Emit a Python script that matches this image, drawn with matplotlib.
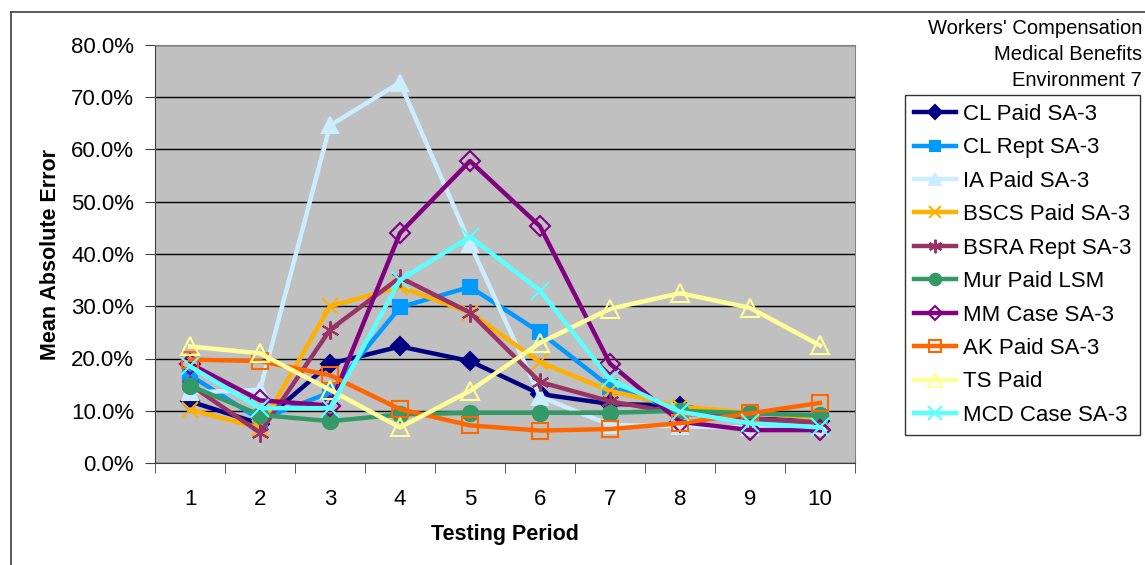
import numpy as np
import matplotlib.pyplot as plt
from matplotlib.lines import Line2D
from matplotlib.ticker import FuncFormatter

plt.rcParams['font.family'] = ['Liberation Sans', 'DejaVu Sans']

periods = np.arange(1, 11)

cl_paid = [11.8, 7.5, 19.0, 22.3, 19.5, 13.2, 11.3, 11.0, 8.5, 8.0]
cl_rept = [16.8, 8.3, 13.5, 29.8, 33.7, 25.0, 14.6, 10.0, 8.3, 7.9]
ia_paid = [13.5, 14.0, 64.6, 72.8, 42.0, 12.7, 7.3, 7.0, 6.8, 6.8]
bscs_paid = [10.2, 6.7, 30.0, 33.7, 28.8, 19.3, 13.8, 10.8, 9.6, 8.6]
bsra_rept = [15.0, 5.8, 25.5, 35.5, 28.8, 15.5, 11.8, 9.5, 8.5, 7.7]
mur_paid = [14.8, 9.2, 8.0, 9.3, 9.6, 9.6, 9.6, 10.0, 9.5, 9.1]
mm_case = [19.0, 12.0, 11.0, 44.0, 57.8, 45.3, 19.0, 7.9, 6.3, 6.3]
ak_paid = [19.8, 19.5, 16.8, 10.3, 7.2, 6.2, 6.5, 7.6, 9.5, 11.5]
ts_paid = [22.3, 21.0, 14.0, 6.8, 13.8, 23.0, 29.5, 32.5, 29.7, 22.5]
mcd_case = [18.5, 10.5, 10.5, 35.0, 43.3, 33.0, 16.0, 9.8, 7.6, 6.8]

names = ['CL Paid SA-3', 'CL Rept SA-3', 'IA Paid SA-3', 'BSCS Paid SA-3',
         'BSRA Rept SA-3', 'Mur Paid LSM', 'MM Case SA-3', 'AK Paid SA-3',
         'TS Paid', 'MCD Case SA-3']
series = [cl_paid, cl_rept, ia_paid, bscs_paid, bsra_rept,
          mur_paid, mm_case, ak_paid, ts_paid, mcd_case]
title_lines = ["Workers' Compensation", 'Medical Benefits', 'Environment 7']

# colour, marker, marker size, filled
styles = [
    ('#000080', 'D', 9, True),
    ('#0099FF', 's', 10, True),
    ('#CCECFF', '^', 11, True),
    ('#FFB000', 'x', 12, True),
    ('#993366', (6, 2, 0), 13, True),
    ('#339966', 'o', 11, True),
    ('#800080', 'D', 10, False),
    ('#FF6600', 's', 11, False),
    ('#FFFF99', '^', 13, False),
    ('#5CFFFF', 'x', 13, True),
]

fig = plt.figure(figsize=(11.45, 5.65), dpi=100)
ax = fig.add_axes([155 / 1145, 1 - 463 / 565, 700 / 1145, 418 / 565])
ax.set_facecolor('#C0C0C0')

handles = []
for vals, name, (col, mk, ms, filled) in zip(series, names, styles):
    y = np.array(vals) / 100
    kw = dict(color=col, lw=3.2, marker=mk, ms=ms, mec=col, mew=1.5)
    if not filled:
        kw['mfc'] = 'none'
    ax.plot(periods, y, zorder=3, **kw)
    handles.append(Line2D([], [], label=name, **{**kw, 'ms': ms * 0.75}))

ax.set_xlim(0.5, 10.5)
ax.set_ylim(0, 0.8)
ax.set_yticks(np.arange(0, 0.81, 0.1))
ax.yaxis.set_major_formatter(FuncFormatter(lambda v, p: f'{v * 100:.1f}%'))
ax.set_xticks(periods)
ax.set_xticks(np.arange(0.5, 11, 1), minor=True)
ax.tick_params(axis='x', which='major', length=0, pad=18.5, labelsize=16)
ax.tick_params(axis='x', which='minor', length=7, direction='out', color='#404040')
ax.tick_params(axis='y', length=7, direction='out', pad=8, labelsize=16, color='#404040')
ax.yaxis.grid(True, color='black', lw=1)
ax.set_axisbelow(True)
for s in ['top', 'right']:
    ax.spines[s].set_color('#808080')
for s in ['left', 'bottom']:
    ax.spines[s].set_color('#404040')

ax.set_xlabel('Testing Period', fontsize=15.5, fontweight='bold', labelpad=10)
ax.set_ylabel('Mean Absolute Error', fontsize=15.5, fontweight='bold', labelpad=7)

for i, line in enumerate(title_lines):
    fig.text(1142 / 1145, 1 - (28 + 26.5 * i) / 565, line,
             ha='right', va='center', fontsize=14.5)

leg = fig.legend(handles=handles, loc='upper left',
                 bbox_to_anchor=(905 / 1145, 1 - 95 / 565), borderaxespad=0,
                 fontsize=16, frameon=True, fancybox=False, handlelength=1.9,
                 handletextpad=0.3, labelspacing=0.56, borderpad=0.4)
leg.get_frame().set_edgecolor('black')
leg.get_frame().set_linewidth(1)

# outer chart border
fig.add_artist(Line2D([11 / 1145, 11 / 1145], [0, 1 - 12 / 565], color='#404040', lw=1.2))
fig.add_artist(Line2D([11 / 1145, 1], [1 - 12 / 565, 1 - 12 / 565], color='#404040', lw=1.2))

fig.savefig('out.png', dpi=100)
